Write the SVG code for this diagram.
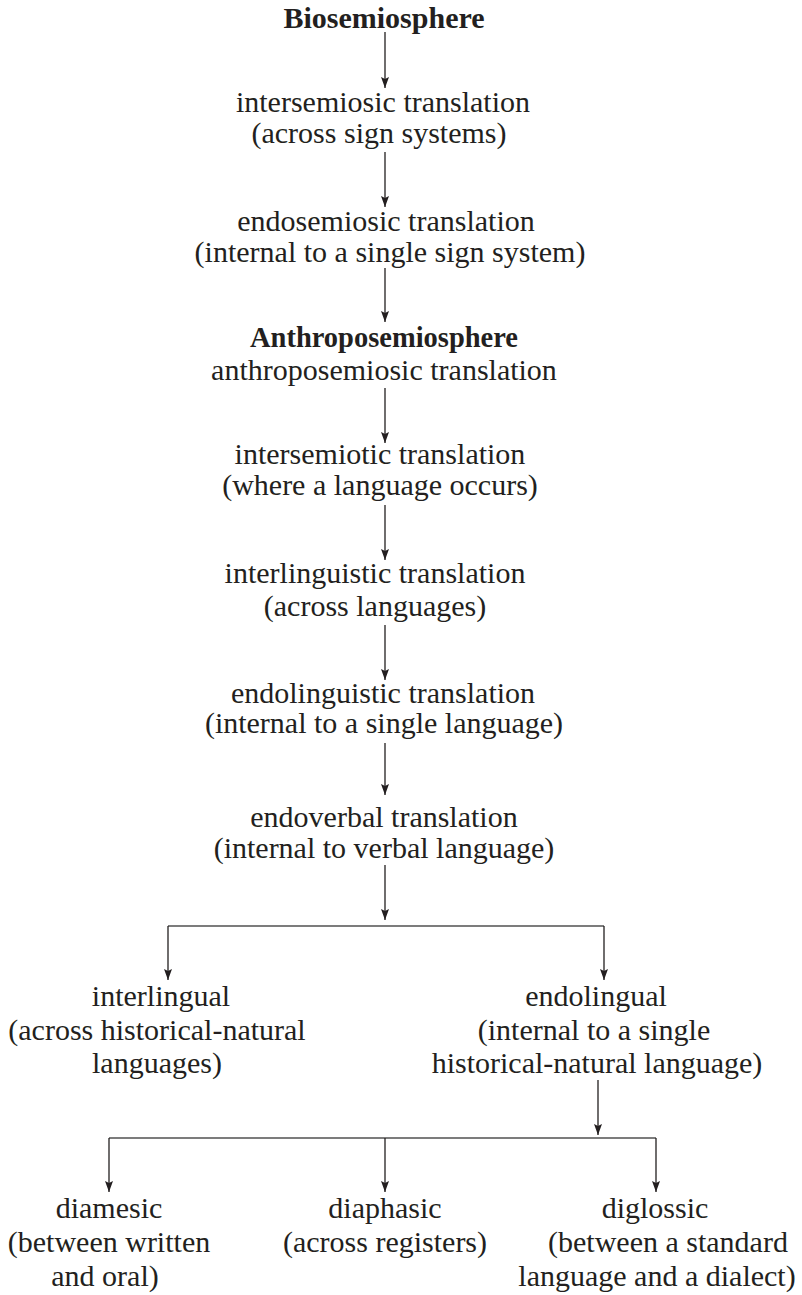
<svg xmlns="http://www.w3.org/2000/svg" width="802" height="1295" viewBox="0 0 802 1295">
  <style>
    .t { font-family: "Liberation Serif", "Times New Roman", serif; font-size: 30px; fill: #231f20; text-anchor: middle; }
    .b { font-weight: bold; }
    .c { stroke: #231f20; stroke-width: 1.3; fill: none; }
    .h { stroke: #505050; stroke-width: 1.6; fill: none; }
  </style>
  <defs>
    <marker id="ah" viewBox="0 0 11 8" refX="11" refY="4" markerWidth="11" markerHeight="8" markerUnits="userSpaceOnUse" orient="auto">
      <path d="M0,0 L11,4 L0,8 L2,4 z" fill="#231f20"/>
    </marker>
  </defs>
  <rect width="802" height="1295" fill="#ffffff"/>

  <g id="connectors">
    <line class="c" x1="385" y1="32" x2="385" y2="88" marker-end="url(#ah)"/>
    <line class="c" x1="385" y1="152" x2="385" y2="207" marker-end="url(#ah)"/>
    <line class="c" x1="385" y1="268" x2="385" y2="322" marker-end="url(#ah)"/>
    <line class="c" x1="385" y1="388" x2="385" y2="443" marker-end="url(#ah)"/>
    <line class="c" x1="385" y1="505" x2="385" y2="560" marker-end="url(#ah)"/>
    <line class="c" x1="385" y1="625" x2="385" y2="680" marker-end="url(#ah)"/>
    <line class="c" x1="385" y1="743" x2="385" y2="795" marker-end="url(#ah)"/>
    <line class="c" x1="385" y1="865" x2="385" y2="920" marker-end="url(#ah)"/>
    <line class="h" x1="168" y1="926" x2="604" y2="926"/>
    <line class="c" x1="168" y1="926" x2="168" y2="980" marker-end="url(#ah)"/>
    <line class="c" x1="604" y1="926" x2="604" y2="980" marker-end="url(#ah)"/>
    <line class="c" x1="598" y1="1080" x2="598" y2="1135" marker-end="url(#ah)"/>
    <line class="h" x1="109" y1="1138" x2="656" y2="1138"/>
    <line class="c" x1="109" y1="1138" x2="109" y2="1192" marker-end="url(#ah)"/>
    <line class="c" x1="385" y1="1138" x2="385" y2="1192" marker-end="url(#ah)"/>
    <line class="c" x1="656" y1="1138" x2="656" y2="1192" marker-end="url(#ah)"/>
  </g>

  <g id="biosemiosphere">
    <text class="t b" x="384" y="28">Biosemiosphere</text>
  </g>
  <g id="intersemiosic">
    <text class="t" x="383" y="112">intersemiosic translation</text>
    <text class="t" x="379" y="143">(across sign systems)</text>
  </g>
  <g id="endosemiosic">
    <text class="t" x="386" y="231">endosemiosic translation</text>
    <text class="t" x="390" y="262">(internal to a single sign system)</text>
  </g>
  <g id="anthroposemiosphere">
    <text class="t b" x="384" y="347" textLength="268" lengthAdjust="spacingAndGlyphs">Anthroposemiosphere</text>
    <text class="t" x="384" y="380">anthroposemiosic translation</text>
  </g>
  <g id="intersemiotic">
    <text class="t" x="380" y="464">intersemiotic translation</text>
    <text class="t" x="380" y="495">(where a language occurs)</text>
  </g>
  <g id="interlinguistic">
    <text class="t" x="375" y="583">interlinguistic translation</text>
    <text class="t" x="375" y="616">(across languages)</text>
  </g>
  <g id="endolinguistic">
    <text class="t" x="383" y="703">endolinguistic translation</text>
    <text class="t" x="384" y="733">(internal to a single language)</text>
  </g>
  <g id="endoverbal">
    <text class="t" x="384" y="827">endoverbal translation</text>
    <text class="t" x="384" y="858">(internal to verbal language)</text>
  </g>
  <g id="interlingual">
    <text class="t" x="161" y="1006">interlingual</text>
    <text class="t" x="157" y="1040">(across historical-natural</text>
    <text class="t" x="157" y="1073">languages)</text>
  </g>
  <g id="endolingual">
    <text class="t" x="596" y="1006">endolingual</text>
    <text class="t" x="594" y="1040">(internal to a single</text>
    <text class="t" x="597" y="1073">historical-natural language)</text>
  </g>
  <g id="diamesic">
    <text class="t" x="109" y="1218">diamesic</text>
    <text class="t" x="109" y="1252">(between written</text>
    <text class="t" x="105" y="1286">and oral)</text>
  </g>
  <g id="diaphasic">
    <text class="t" x="385" y="1218">diaphasic</text>
    <text class="t" x="385" y="1252">(across registers)</text>
  </g>
  <g id="diglossic">
    <text class="t" x="655" y="1218">diglossic</text>
    <text class="t" x="668" y="1252">(between a standard</text>
    <text class="t" x="657" y="1286">language and a dialect)</text>
  </g>
</svg>
